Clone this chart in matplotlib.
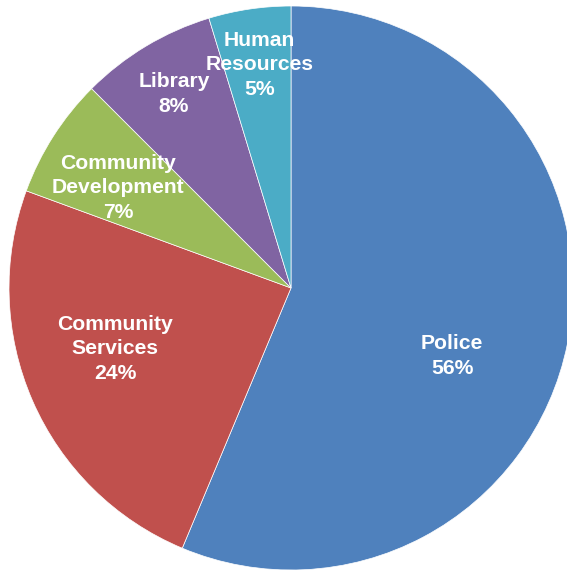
import matplotlib
matplotlib.use('Agg')
import matplotlib.pyplot as plt

# data
departamentos = ['Police', 'Community\nServices', 'Community\nDevelopment', 'Library', 'Human\nResources']
percentuais = [56.3, 24.3, 6.9, 7.8, 4.7]
cores = ['#4F81BD', '#C0504D', '#9BBB59', '#8064A2', '#4BACC6']

# label positions (pie radius units), as Excel placed them
pos_rotulos = [(0.571, -0.241), (-0.624, -0.216), (-0.613, 0.355), (-0.415, 0.688), (-0.113, 0.791)]

W, H = 567, 572
cx, cy, r = 291, 288, 282

fig = plt.figure(figsize=(W / 100, H / 100), dpi=100)
ax = fig.add_axes([0, 0, 1, 1])
wedges, _ = ax.pie(percentuais, colors=cores, startangle=90, counterclock=False,
                   radius=1.0, wedgeprops={'edgecolor': 'white', 'linewidth': 0.5})
ax.set_xlim(-cx / r, (W - cx) / r)
ax.set_ylim(-(H - cy) / r, cy / r)
ax.set_aspect('auto')
ax.axis('off')

for nome, pct, (x, y) in zip(departamentos, percentuais, pos_rotulos):
    ax.text(x, y, f"{nome}\n{round(pct)}%", ha='center', va='center', color='white',
            fontsize=15.2, fontweight='bold', family='Liberation Sans', linespacing=1.36)

plt.savefig('out.png', dpi=100)
